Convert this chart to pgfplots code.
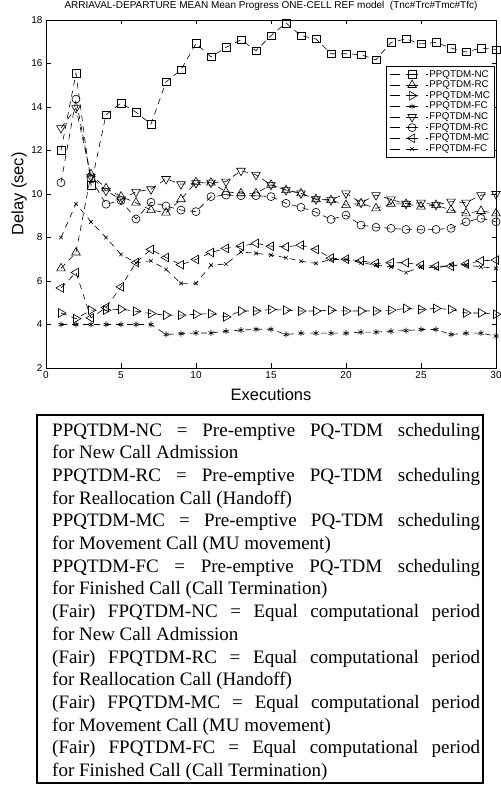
\documentclass[border=0pt]{standalone}
\usepackage{pgfplots}
\pgfplotsset{compat=1.18}
\usepackage{fontspec}
\setmainfont{Liberation Serif}
\newfontfamily\arial{Liberation Sans}
\pgfplotsset{
  ser/.style={black, line width=0.6pt, dash pattern=on 6pt off 5pt},
}
\begin{document}
\begin{tikzpicture}
\path[use as bounding box] (0pt,0pt) rectangle (500pt,786pt);
\begin{axis}[
  at={(46pt,418pt)}, anchor=south west, scale only axis,
  width=450pt, height=348pt,
  xmin=0, xmax=30, ymin=2, ymax=18,
  xtick={0,5,...,30}, ytick={2,4,...,18},
  tick align=inside, major tick length=4.5pt,
  axis line style={line width=0.9pt},
  every tick/.style={black, line width=0.6pt},
  ticklabel style={font=\arial\fontsize{10}{12}\selectfont},
  /pgf/number format/assume math mode=true,
  title={ARRIAVAL-DEPARTURE MEAN Mean Progress ONE-CELL REF model\ \ (Tnc\#Trc\#Tmc\#Tfc)},
  title style={font=\arial\fontsize{10}{12}\selectfont, at={(axis description cs:0.5,1.016)}, anchor=base},
  xlabel={Executions},
  xlabel style={font=\arial\fontsize{16.5}{18}\selectfont, at={(axis description cs:0.5,-0.0776)}, anchor=center},
  ylabel={Delay (sec)},
  ylabel style={font=\arial\fontsize{16.5}{18}\selectfont, at={(axis description cs:-0.06,0.5)}, anchor=center},
  legend style={at={(axis description cs:0.997,0.868)}, anchor=north east,
    draw=black, line width=0.6pt, fill=white, font=\arial\fontsize{9.8}{11}\selectfont,
    inner xsep=3.5pt, inner ysep=3pt, row sep=0.3pt, nodes={inner sep=1pt}},
  legend cell align=left,
  legend image code/.code={\draw[mark repeat=2,mark phase=2,#1,dash pattern=on 10pt off 6pt on 12pt off 8pt on 1.5pt off 50pt] plot coordinates {(0pt,0pt) (22pt,0pt) (38pt,0pt)};},
]
\addplot[ser, mark=square, mark size=3.8pt, mark options={solid}] coordinates {
(1,12.0) (2,15.55) (3,10.4) (4,13.64) (5,14.18) (6,13.76) (7,13.21) (8,15.15) (9,15.71) (10,16.92)
(11,16.30) (12,16.74) (13,17.09) (14,16.59) (15,17.28) (16,17.86) (17,17.28) (18,17.13) (19,16.45) (20,16.45)
(21,16.40) (22,16.17) (23,16.97) (24,17.13) (25,16.90) (26,16.97) (27,16.71) (28,16.53) (29,16.71) (30,16.63)};
\addlegendentry{PPQTDM-NC}
\addplot[ser, mark=triangle, mark size=5pt, mark options={solid}] coordinates {
(1,6.58) (2,7.31) (3,10.9) (4,10.26) (5,9.88) (6,9.60) (7,9.26) (8,9.14) (9,9.76) (10,10.54)
(11,10.52) (12,10.10) (13,10.03) (14,10.03) (15,10.42) (16,10.18) (17,10.03) (18,9.76) (19,9.72) (20,9.49)
(21,9.57) (22,9.34) (23,9.55) (24,9.54) (25,9.42) (26,9.49) (27,9.26) (28,9.11) (29,9.22) (30,9.11)};
\addlegendentry{PPQTDM-RC}
\addplot[ser, mark=triangle, mark size=5pt, mark options={solid,rotate=-90}] coordinates {
(1,4.53) (2,4.27) (3,4.66) (4,4.66) (5,4.70) (6,4.61) (7,4.50) (8,4.43) (9,4.43) (10,4.47)
(11,4.50) (12,4.35) (13,4.62) (14,4.62) (15,4.69) (16,4.66) (17,4.62) (18,4.62) (19,4.66) (20,4.62)
(21,4.62) (22,4.62) (23,4.66) (24,4.74) (25,4.69) (26,4.74) (27,4.69) (28,4.53) (29,4.53) (30,4.47)};
\addlegendentry{PPQTDM-MC}
\addplot[ser, mark=asterisk, mark size=3pt, mark options={solid}] coordinates {
(1,4.0) (2,4.0) (3,4.0) (4,4.0) (5,4.0) (6,4.0) (7,4.0) (8,3.54) (9,3.58) (10,3.61)
(11,3.61) (12,3.69) (13,3.74) (14,3.78) (15,3.78) (16,3.54) (17,3.60) (18,3.60) (19,3.60) (20,3.60)
(21,3.65) (22,3.65) (23,3.69) (24,3.72) (25,3.77) (26,3.77) (27,3.54) (28,3.60) (29,3.60) (30,3.47)};
\addlegendentry{PPQTDM-FC}
\addplot[ser, mark=triangle, mark size=5pt, mark options={solid,rotate=180}] coordinates {
(1,13.03) (2,13.95) (3,10.8) (4,10.15) (5,9.75) (6,10.10) (7,10.22) (8,10.69) (9,10.45) (10,10.50)
(11,10.52) (12,10.57) (13,11.07) (14,10.88) (15,10.42) (16,10.18) (17,10.03) (18,9.76) (19,9.72) (20,10.03)
(21,9.60) (22,9.95) (23,9.75) (24,9.55) (25,9.60) (26,9.50) (27,9.65) (28,9.60) (29,9.95) (30,10.00)};
\addlegendentry{FPQTDM-NC}
\addplot[ser, mark=o, mark size=4pt, mark options={solid}] coordinates {
(1,10.52) (2,14.36) (3,10.7) (4,9.53) (5,9.70) (6,8.85) (7,9.62) (8,9.45) (9,9.26) (10,9.19)
(11,9.88) (12,9.95) (13,9.92) (14,9.92) (15,9.88) (16,9.57) (17,9.39) (18,9.16) (19,8.83) (20,9.03)
(21,8.57) (22,8.47) (23,8.42) (24,8.37) (25,8.37) (26,8.37) (27,8.42) (28,8.72) (29,8.88) (30,8.72)};
\addlegendentry{FPQTDM-RC}
\addplot[ser, mark=triangle, mark size=5pt, mark options={solid,rotate=90}] coordinates {
(1,5.68) (2,6.39) (3,4.30) (4,4.78) (5,5.73) (6,6.85) (7,7.45) (8,7.08) (9,6.75) (10,6.99)
(11,7.31) (12,7.50) (13,7.60) (14,7.73) (15,7.60) (16,7.57) (17,7.65) (18,7.45) (19,7.05) (20,7.00)
(21,6.93) (22,6.81) (23,6.84) (24,6.84) (25,6.73) (26,6.68) (27,6.68) (28,6.78) (29,6.93) (30,6.96)};
\addlegendentry{FPQTDM-MC}
\addplot[ser, mark=x, mark size=2.5pt, mark options={solid}] coordinates {
(1,8.0) (2,9.55) (3,8.72) (4,8.0) (5,7.22) (6,6.84) (7,6.93) (8,6.53) (9,5.89) (10,5.89)
(11,6.73) (12,6.78) (13,7.34) (14,7.27) (15,7.19) (16,7.07) (17,6.91) (18,6.81) (19,6.99) (20,6.99)
(21,6.84) (22,6.73) (23,6.65) (24,6.39) (25,6.65) (26,6.60) (27,6.73) (28,6.73) (29,6.65) (30,6.58)};
\addlegendentry{FPQTDM-FC}
\end{axis}
\draw[line width=1.5pt] (37pt,3pt) rectangle (483pt,371pt);
\node[anchor=north west, inner sep=0pt, text width=428pt, align=justify,
      font=\fontsize{19}{22.7}\selectfont] at (52pt,366pt) {%
\tolerance=9999 \hbadness=10000 \hyphenpenalty=10000 \exhyphenpenalty=10000
\strut PPQTDM-NC = Pre-emptive PQ-TDM scheduling\linebreak for New Call Admission\par
PPQTDM-RC = Pre-emptive PQ-TDM scheduling\linebreak for Reallocation Call (Handoff)\par
PPQTDM-MC = Pre-emptive PQ-TDM scheduling\linebreak for Movement Call (MU movement)\par
PPQTDM-FC = Pre-emptive PQ-TDM scheduling\linebreak for Finished Call (Call Termination)\par
(Fair) FPQTDM-NC = Equal computational period\linebreak for New Call Admission\par
(Fair) FPQTDM-RC = Equal computational period\linebreak for Reallocation Call (Handoff)\par
(Fair) FPQTDM-MC = Equal computational period\linebreak for Movement Call (MU movement)\par
(Fair) FPQTDM-FC = Equal computational period\linebreak for Finished Call (Call Termination)};
\end{tikzpicture}
\end{document}
